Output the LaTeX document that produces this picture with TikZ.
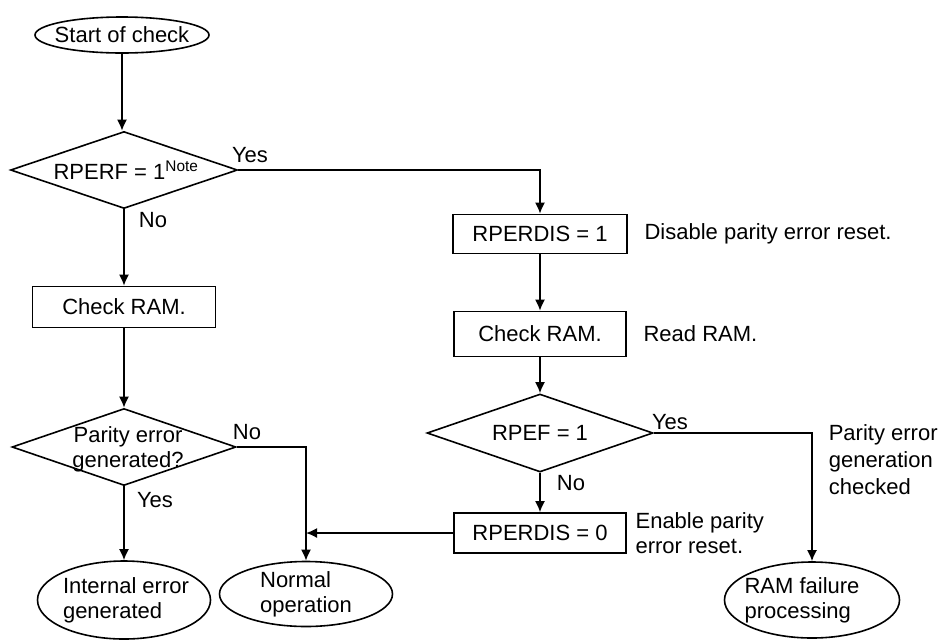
\documentclass[tikz,border=0pt]{standalone}
\usepackage{fontspec}
\setmainfont{Liberation Sans}
\usetikzlibrary{positioning,shapes.geometric,arrows.meta}

\begin{document}
\begin{tikzpicture}[
    x=1pt, y=-1pt,
    line width=1.6pt,
    % Define flowchart styles
    every node/.style={font=\fontsize{22}{25}\selectfont, inner sep=0pt},
    term/.style={draw, ellipse, minimum width=174pt, minimum height=36pt},
    stepbox/.style={draw, rectangle, minimum width=172pt, minimum height=40pt},
    decision/.style={draw, diamond, minimum width=226pt, minimum height=77pt},
    flow/.style={-{Latex[length=11pt,width=10pt]}},
    note/.style={align=left, anchor=west} % Style for side remarks
]

% Picture frame
\useasboundingbox (0,0) rectangle (940,641);

% Left branch
\node[term] (start) at (122,35) {};
\node (starttext) at (start) {Start of check};

\node[decision, minimum width=227pt] (rperf) at (124,170) {};
\node (rperftext) at ([xshift=2pt]rperf) {RPERF = 1\textsuperscript{Note}};

\node[stepbox, minimum width=183pt, minimum height=41pt] (chk1) at (124,307) {Check RAM.};

\node[decision, minimum width=224pt] (parity) at (124,447) {};
\node[align=center] (paritytext) at ([xshift=4pt,yshift=-2pt]parity) {Parity error\\generated?};

\node[term, minimum width=173pt, minimum height=78pt] (interr) at (124,600) {};
\node[align=left] (interrtext) at ([xshift=2pt]interr) {Internal error\\generated};

\node[term, minimum width=173pt, minimum height=65pt] (normal) at (306,594) {};
\node[align=left] (normaltext) at (normal) {Normal\\operation};

% Right branch
\node[stepbox, minimum width=174pt, minimum height=39pt] (dis) at (540,234) {RPERDIS = 1};
\node[stepbox, minimum height=45pt] (chk2) at (540,334) {Check RAM.};
\node[decision, minimum height=78pt] (rpef) at (540,433) {};
\node (rpeftext) at (rpef) {RPEF = 1};
\node[stepbox] (ena) at (540,533) {RPERDIS = 0};

\node[term, minimum width=175pt, minimum height=76pt] (fail) at (812,600) {};
\node[align=left] (failtext) at ([xshift=-10pt]fail) {RAM failure\\processing};

% Side remarks
\node[note, right=16pt of dis] (disnote) {Disable parity error reset.};
\node[note, right=16pt of chk2] (readnote) {Read RAM.};
\node[note, right=8pt of ena] (enanote) {Enable parity\\error reset.};
\node[note, font=\fontsize{22}{27}\selectfont] (chknote) at (828,460) {Parity error\\generation\\checked};

% Branch labels
\node (yes1) at (250,155) {Yes};
\node (no1) at (153,220) {No};
\node (no2) at (247,432) {No};
\node (yes2) at (155,500) {Yes};
\node (yes3) at (670,422) {Yes};
\node (no3) at (571,483) {No};

% Connectors
\draw[flow] (start.south) -- (start.south |- rperf.north);
\draw[flow] (rperf.south) -- (chk1.north);
\draw[flow] (chk1.south) -- (parity.north);
\draw[flow] (parity.south) -- (interr.north);
\draw[flow] (parity.east) -| (normal.north);
\draw[flow] (rperf.east) -| (dis.north);
\draw[flow] (dis.south) -- (chk2.north);
\draw[flow] (chk2.south) -- (rpef.north);
\draw[flow] (rpef.south) -- (ena.north);
\draw[flow] (rpef.east) -| (fail.north);
\draw[flow] (ena.west) -- (ena.west -| normal.north);

\end{tikzpicture}
\end{document}
